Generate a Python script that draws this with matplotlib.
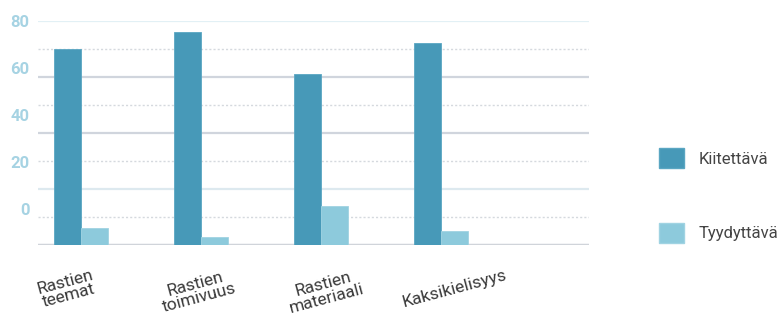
import matplotlib
matplotlib.use('Agg')
import matplotlib.pyplot as plt
import numpy as np
from matplotlib.patches import Patch

plt.rcParams['font.family'] = ['Roboto', 'DejaVu Sans']

# Data
categories = ['Rastien\nteemat', 'Rastien\ntoimivuus', 'Rastien\nmateriaali', 'Kaksikielisyys']
kiitettava = [70, 76, 61, 72]
tyydyttava = [6, 3, 14, 5]
series_names = ['Kiitettävä', 'Tyydyttävä']

# y labels as printed (they sit offset from the gridlines in the original)
ytick_pos = [80, 63.2, 46.4, 29.6, 12.9]
ytick_labels = ['80', '60', '40', '20', '0']

solid_levels = [20, 40, 60, 80]
solid_colors = ['#dde9ef', '#d0d5dd', '#d0d5dd', '#e2f0f5']
dotted_levels = [10, 30, 50, 70]

c_dark = '#4799b8'
c_light = '#8dcadc'

fig = plt.figure(figsize=(7.82, 3.18), dpi=100)
ax = fig.add_axes([0.0482, 0.2296, 0.753 - 0.0482, 0.935 - 0.2296])

x = np.arange(len(categories))
w = 0.225

for lvl, col in zip(solid_levels, solid_colors):
    ax.axhline(lvl, color=col, lw=1.6, zorder=1)
for lvl in dotted_levels:
    ax.axhline(lvl, color='#d5d9de', lw=1.0, ls=(0, (1.5, 1.5)), zorder=1)
ax.axhline(0, color='#d0d4da', lw=2.5, zorder=1)

ax.bar(x, kiitettava, w, align='edge', color=c_dark, edgecolor='#5aa6c2', lw=0.6, zorder=3)
ax.bar(x + w, tyydyttava, w, align='edge', color=c_light, edgecolor='#a0d3e2', lw=0.6, zorder=3)

ax.set_xlim(-0.136, 4.458)
ax.set_ylim(0, 80)

ax.set_yticks(ytick_pos)
ax.set_yticklabels(ytick_labels, color='#a6d3e3', fontsize=12, fontweight='bold')
ax.tick_params(axis='y', length=0, pad=6)

# labels drift slightly from the group centres in the original
label_shift = [-0.117, -0.033, 0.033, 0.117]
ax.set_xticks(x + w + np.array(label_shift))
ax.set_xticklabels(categories, rotation=15, ha='center', fontsize=12.5,
                   color='#3a3a3a', linespacing=0.95)
ax.tick_params(axis='x', length=0, pad=16)

for s in ax.spines.values():
    s.set_visible(False)

handles = [Patch(facecolor=c_dark, edgecolor='#5aa6c2'),
           Patch(facecolor=c_light, edgecolor='#a0d3e2')]
fig.legend(handles, series_names, loc='center left', bbox_to_anchor=(0.823, 0.385),
           frameon=False, fontsize=12, handlelength=1.5, handleheight=1.5,
           handletextpad=0.9, labelspacing=3.25, labelcolor='#444444')

fig.savefig('out.png', dpi=100, facecolor='white')
